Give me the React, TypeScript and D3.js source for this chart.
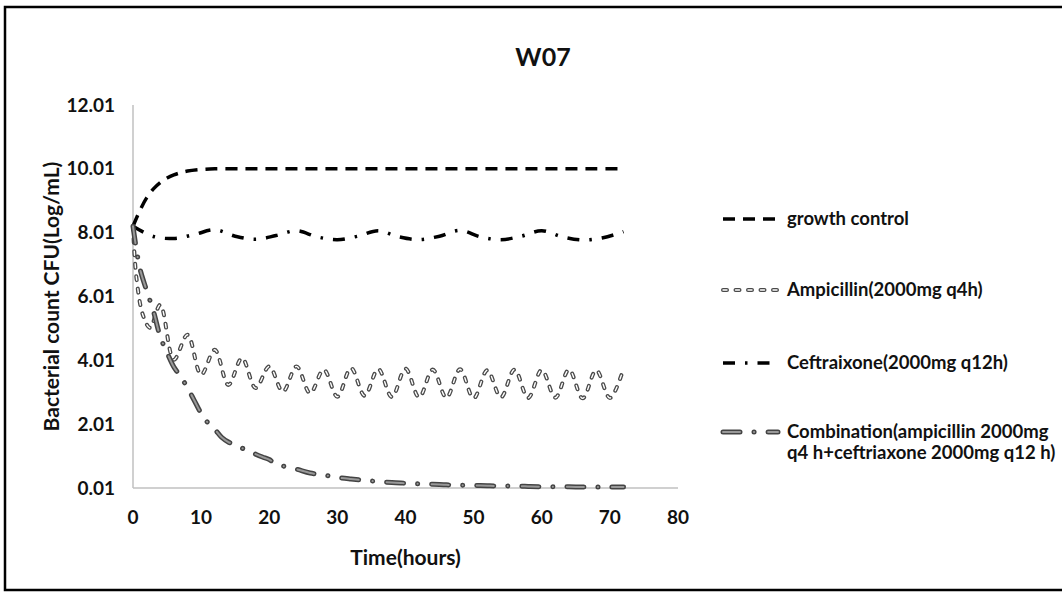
import React from "react";
import * as d3 from "d3";

const W = 1062;
const H = 596;

const title = "W07";
const xLabel = "Time(hours)";
const yLabel = "Bacterial count CFU(Log/mL)";
const xTicks = [0, 10, 20, 30, 40, 50, 60, 70, 80];
const yTicks = [0.01, 2.01, 4.01, 6.01, 8.01, 10.01, 12.01];

const seriesNames = [
  "growth control",
  "Ampicillin(2000mg q4h)",
  "Ceftraixone(2000mg q12h)",
  "Combination(ampicillin 2000mg|q4 h+ceftriaxone 2000mg q12 h)",
];

const growthT = [0, 1, 2, 3, 4, 5, 6, 7, 8, 10, 12, 16, 20, 24, 28, 32, 36, 40, 44, 48, 52, 56, 60, 64, 68, 72];
const growthV = [8.21, 8.7, 9.1, 9.38, 9.58, 9.72, 9.82, 9.89, 9.94, 9.99, 10.01, 10.01, 10.01, 10.01, 10.01, 10.01, 10.01, 10.01, 10.01, 10.01, 10.01, 10.01, 10.01, 10.01, 10.01, 10.01];

const ampT = [0, 0.5, 1.5, 2.5, 4, 6, 8, 10, 12, 14, 16, 18, 20, 22, 24, 26, 28, 30, 32, 34, 36, 38, 40, 42, 44, 46, 48, 50, 52, 54, 56, 58, 60, 62, 64, 66, 68, 70, 72];
const ampV = [8.21, 6.6, 5.4, 5.03, 5.75, 4.03, 4.81, 3.56, 4.34, 3.24, 4.08, 3.14, 3.82, 3.03, 3.82, 2.98, 3.72, 2.87, 3.77, 2.9, 3.74, 2.86, 3.75, 2.85, 3.72, 2.84, 3.73, 2.82, 3.7, 2.85, 3.72, 2.83, 3.71, 2.84, 3.72, 2.82, 3.7, 2.83, 3.75];

const cefT = [0, 3, 6, 9, 12, 15, 18, 21, 24, 27, 30, 33, 36, 39, 42, 45, 48, 51, 54, 57, 60, 63, 66, 69, 72];
const cefV = [8.21, 7.89, 7.83, 7.95, 8.1, 7.9, 7.8, 7.92, 8.07, 7.88, 7.79, 7.9, 8.07, 7.88, 7.79, 7.9, 8.08, 7.88, 7.79, 7.9, 8.07, 7.88, 7.78, 7.85, 8.04];

const comboT = [0, 1, 2, 3, 4, 5, 6, 7, 8, 9, 10, 11, 12, 13, 14, 15, 16, 17, 18, 19, 20, 21, 22, 24, 26, 28, 30, 32, 34, 36, 38, 40, 42, 44, 46, 48, 50, 52, 54, 56, 58, 60, 62, 64, 66, 68, 70, 72];
const comboV = [8.21, 6.9, 6.2, 5.55, 4.75, 4.25, 3.8, 3.5, 3.15, 2.75, 2.35, 2.05, 1.85, 1.6, 1.45, 1.36, 1.26, 1.17, 1.07, 0.98, 0.9, 0.76, 0.7, 0.6, 0.48, 0.42, 0.34, 0.29, 0.25, 0.21, 0.18, 0.16, 0.14, 0.13, 0.11, 0.1, 0.09, 0.08, 0.07, 0.07, 0.06, 0.05, 0.05, 0.05, 0.04, 0.04, 0.04, 0.04];

const FONT = "Lato, 'Noto Sans', sans-serif";

type Layer = { stroke: string; width: number; dash: string; cap: "butt" | "round" };

const styles: Layer[][] = [
  [{ stroke: "#000", width: 3.5, dash: "12,8", cap: "butt" }],
  [
    { stroke: "#4a4a4a", width: 4, dash: "4,8.5", cap: "round" },
    { stroke: "#fff", width: 1.4, dash: "4,8.5", cap: "round" },
  ],
  [{ stroke: "#000", width: 3.5, dash: "12,10,2.5,10", cap: "butt" }],
  [
    { stroke: "#444", width: 5, dash: "17,14,0.1,14", cap: "round" },
    { stroke: "#999", width: 2, dash: "17,14,0.1,14", cap: "round" },
  ],
];

export default function App() {
  const x = d3.scaleLinear().domain([0, 80]).range([133, 678]);
  const y = d3.scaleLinear().domain([0.01, 12.01]).range([488, 105]);
  const line = d3
    .line<[number, number]>()
    .x((d) => x(d[0]))
    .y((d) => y(d[1]))
    .curve(d3.curveCatmullRom.alpha(0.5));

  const data: [number, number][][] = [
    growthT.map((t, i) => [t, growthV[i]] as [number, number]),
    ampT.map((t, i) => [t, ampV[i]] as [number, number]),
    cefT.map((t, i) => [t, cefV[i]] as [number, number]),
    comboT.map((t, i) => [t, comboV[i]] as [number, number]),
  ];

  const legendY = [219, 290, 363, 432];

  return (
    <svg
      width={W}
      height={H}
      style={{ position: "absolute", left: 0, top: 0, background: "#fff" }}
      fontFamily={FONT}
    >
      <rect x={0} y={0} width={W} height={H} fill="#fff" />
      <rect x={5} y={7} width={1100} height={583} fill="none" stroke="#000" strokeWidth={2.5} />

      <text x={543} y={66} textAnchor="middle" fontSize={25} fontWeight="bold" fill="#111">
        {title}
      </text>

      <line x1={x(0)} x2={x(80)} y1={y(0.01)} y2={y(0.01)} stroke="#c0c0c0" strokeWidth={1.5} />
      <line x1={x(0)} x2={x(0)} y1={y(0.01)} y2={y(12.01)} stroke="#c0c0c0" strokeWidth={1.5} />

      {yTicks.map((v) => (
        <text key={v} x={115} y={y(v)} dy="0.35em" textAnchor="end" fontSize={19} fontWeight="bold" fill="#111">
          {v.toFixed(2)}
        </text>
      ))}
      {xTicks.map((v) => (
        <text key={v} x={x(v)} y={517} dy="0.35em" textAnchor="middle" fontSize={19} fontWeight="bold" fill="#111">
          {v}
        </text>
      ))}

      <text x={(x(0) + x(80)) / 2} y={558} dy="0.35em" textAnchor="middle" fontSize={21} fontWeight="bold" fill="#111">
        {xLabel}
      </text>
      <text
        transform={`translate(52,${(y(0.01) + y(12.01)) / 2}) rotate(-90)`}
        dy="0.35em"
        textAnchor="middle"
        fontSize={21}
        fontWeight="bold"
        fill="#111"
      >
        {yLabel}
      </text>

      {data.map((d, i) =>
        styles[i].map((l, j) => (
          <path
            key={`${i}-${j}`}
            d={line(d) || ""}
            fill="none"
            stroke={l.stroke}
            strokeWidth={l.width}
            strokeDasharray={l.dash}
            strokeLinecap={l.cap}
          />
        ))
      )}

      {seriesNames.map((name, i) => {
        const ly = legendY[i];
        const lines = name.split("|");
        return (
          <g key={name}>
            {styles[i].map((l, j) => (
              <line
                key={j}
                x1={723}
                x2={778}
                y1={ly}
                y2={ly}
                stroke={l.stroke}
                strokeWidth={l.width}
                strokeDasharray={l.dash}
                strokeLinecap={l.cap}
              />
            ))}
            {lines.map((t, k) => (
              <text key={k} x={787} y={ly + k * 20.5} dy="0.35em" fontSize={18.5} fill="#111" fontWeight="bold">
                {t}
              </text>
            ))}
          </g>
        );
      })}
    </svg>
  );
}
